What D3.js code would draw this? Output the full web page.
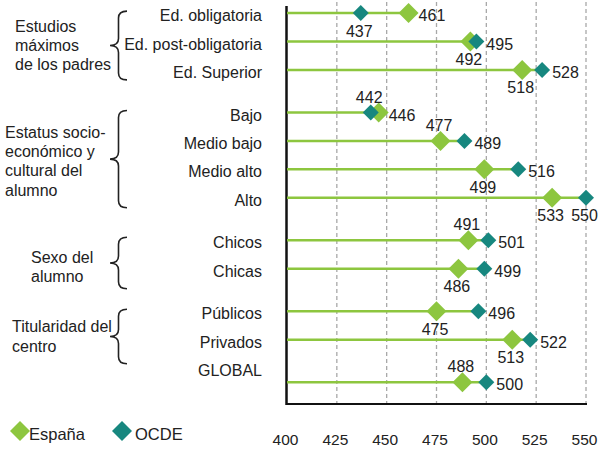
<!DOCTYPE html>
<html><head><meta charset="utf-8">
<script src="https://cdn.jsdelivr.net/npm/d3@7/dist/d3.min.js"></script>
<style>
html,body{margin:0;padding:0;background:#fff;}
text{font-family:"Liberation Sans",Arial,sans-serif;fill:#222;}
</style></head>
<body>
<svg id="chart" width="602" height="451"></svg>
<script>
// ---- data ----
const categories = ["Ed. obligatoria","Ed. post-obligatoria","Ed. Superior","Bajo","Medio bajo","Medio alto","Alto","Chicos","Chicas","Públicos","Privados","GLOBAL"];
const groupOf = [0,0,0,1,1,1,1,2,2,3,3,4];
const espana = [461,492,518,446,477,499,533,491,486,475,513,488];
const ocde   = [437,495,528,442,489,516,550,501,499,496,522,500];
const espanaLabelPos = ["right","below","below","right","above","below","below","above","below","below","below","above"];
const ocdeLabelPos   = ["below","right","right","above","right","right","below","right","right","right","right","right"];
const groupLabels = [["Estudios","máximos","de los padres"],["Estatus socio-","económico y","cultural del","alumno"],["Sexo del","alumno"],["Titularidad del","centro"]];
const xTicks = [400,425,450,475,500,525,550];
const seriesNames = ["España","OCDE"];

(function(){
// ---- styles ----
const GREEN = "#8dc63f", TEAL = "#17877f";
const svg = d3.select("#chart");
const x = d3.scaleLinear().domain([400,550]).range([287,586]);
const rowPos = categories.map((c,i)=> i + 0.5*groupOf[i]);
const y = d3.scaleLinear().domain([-0.25,13.75]).range([6,403.6]);
const plotTop = 6, plotBottom = 404;

// grid
svg.append("g").selectAll("line").data(xTicks.slice(1)).join("line")
  .attr("x1",d=>x(d)).attr("x2",d=>x(d)).attr("y1",2).attr("y2",plotBottom)
  .attr("stroke","#a8a8a8").attr("stroke-width",1.3).attr("stroke-dasharray","4,3");

// axes lines
svg.append("line").attr("x1",286.5).attr("x2",286.5).attr("y1",plotTop).attr("y2",plotBottom+1)
  .attr("stroke","#111").attr("stroke-width",2.5);
svg.append("line").attr("x1",286).attr("x2",587).attr("y1",plotBottom).attr("y2",plotBottom)
  .attr("stroke","#111").attr("stroke-width",2);

// x tick labels via axis
const xAxis = svg.append("g").attr("transform",`translate(0,${plotBottom})`)
  .call(d3.axisBottom(x).tickValues(xTicks).tickSize(0).tickPadding(0).tickFormat(d3.format("d")));
xAxis.select(".domain").remove();
xAxis.selectAll("text").attr("y",41).attr("dy",0).attr("dx",-2)
  .style("font-size","15.5px").style("font-family","Liberation Sans, Arial, sans-serif").attr("fill","#222");

// bars (lines)
const rows = categories.map((c,i)=>({c,i,e:espana[i],o:ocde[i],yy:y(rowPos[i])}));
svg.append("g").selectAll("line").data(rows).join("line")
  .attr("x1",x(400)).attr("x2",d=>x(Math.max(d.e,d.o))).attr("y1",d=>d.yy).attr("y2",d=>d.yy)
  .attr("stroke",GREEN).attr("stroke-width",2.5);

const diamond = r => `M0,${-r}L${r},0L0,${r}L${-r},0Z`;
// España markers
svg.append("g").selectAll("path").data(rows).join("path")
  .attr("d",diamond(10)).attr("fill",GREEN)
  .attr("transform",d=>`translate(${x(d.e)},${d.yy})`);
// OCDE markers
svg.append("g").selectAll("path").data(rows).join("path")
  .attr("d",diamond(8)).attr("fill",TEAL)
  .attr("transform",d=>`translate(${x(d.o)},${d.yy})`);

// value labels
function placeLabel(sel, valKey, posArr){
  sel.each(function(d){
    const p = posArr[d.i], v = d[valKey], cx = x(v);
    const t = d3.select(this).text(v).style("font-size","16px");
    if(p==="right"){ t.attr("x",cx+10).attr("y",d.yy+8).attr("text-anchor","start"); }
    else if(p==="below"){ t.attr("x",cx-1.5).attr("y",d.yy+23.5).attr("text-anchor","middle"); }
    else { t.attr("x",cx-1.5).attr("y",d.yy-10).attr("text-anchor","middle"); }
  });
}
svg.append("g").selectAll("text").data(rows).join("text").call(placeLabel,"e",espanaLabelPos);
svg.append("g").selectAll("text").data(rows).join("text").call(placeLabel,"o",ocdeLabelPos);

// category labels
svg.append("g").selectAll("text").data(rows).join("text")
  .attr("x",262).attr("y",d=> d.c==="GLOBAL" ? d.yy-6 : d.yy+8)
  .attr("text-anchor","end").style("font-size","16px").text(d=>d.c);

// braces and group labels
const braceExt = [[-2,10],[-2,10],[-3,20],[-2,24]];
const labelX = [15,5,31,12];
const labelShift = [0,2,4,0];
groupLabels.forEach((lines,g)=>{
  const idx = groupOf.map((v,i)=>v===g?i:-1).filter(i=>i>=0);
  const y0 = y(rowPos[idx[0]]) + braceExt[g][0];
  const y1 = y(rowPos[idx[idx.length-1]]) + braceExt[g][1];
  const ym = (y0+y1)/2;
  const x0=127, x1=118.5, xt=110, r=7;
  const p = `M${x0},${y0}Q${x1},${y0} ${x1},${y0+r}L${x1},${ym-r}Q${x1},${ym} ${xt},${ym}`+
            `Q${x1},${ym} ${x1},${ym+r}L${x1},${y1-r}Q${x1},${y1} ${x0},${y1}`;
  svg.append("path").attr("d",p).attr("fill","none").attr("stroke","#222").attr("stroke-width",1.6);
  const lh = 19.3;
  const first = ym - (lines.length-1)/2*lh + 5.5 + labelShift[g];
  const t = svg.append("text").style("font-size","16px");
  lines.forEach((l,k)=> t.append("tspan").attr("x",labelX[g]).attr("y",first+k*lh).text(l));
});

// legend
const leg = svg.append("g");
[[20,GREEN,29],[122,TEAL,135]].forEach((s,k)=>{
  leg.append("path").attr("d",diamond(10)).attr("fill",s[1]).attr("transform",`translate(${s[0]},431)`);
  leg.append("text").attr("x",s[2]).attr("y",440).style("font-size","16.5px").text(seriesNames[k]);
});
})();
</script>
</body></html>
